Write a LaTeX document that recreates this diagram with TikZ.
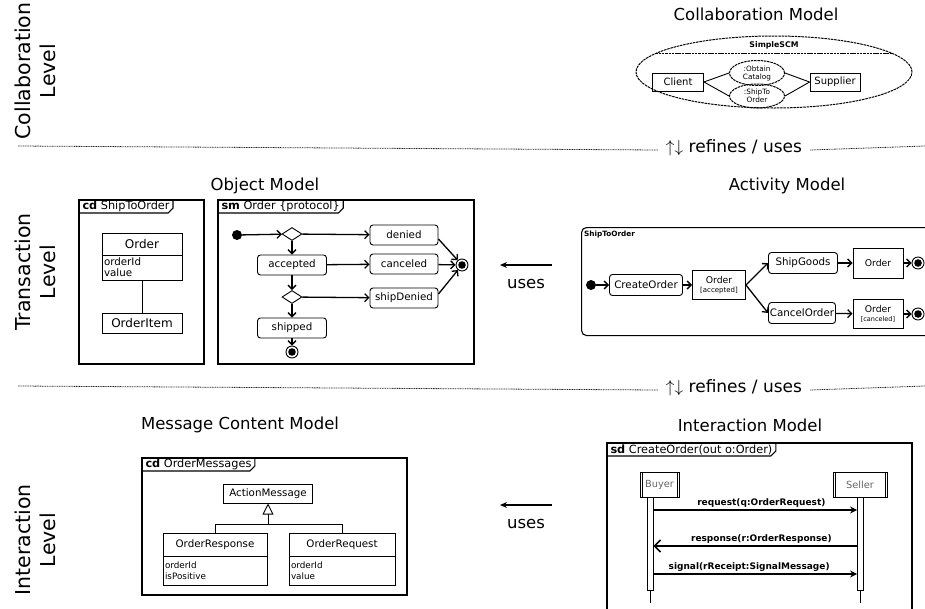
\documentclass[tikz,border=0pt]{standalone}
\usepackage{fontspec}
\setmainfont{DejaVu Sans}
\usetikzlibrary{shapes.geometric, arrows.meta, positioning}
\tikzstyle{leveltext} = [rotate=90, align=center, font=\fontsize{20.5}{25}\selectfont]
\tikzstyle{modeltitle} = [font=\fontsize{16.5}{20}\selectfont]
\tikzstyle{sepline} = [line width=0.8pt, dash pattern=on 1pt off 0.7pt, black!85]
\tikzstyle{umlframe} = [draw, line width=1.1pt, anchor=north west, inner sep=0pt, outer sep=0pt]
\tikzstyle{tab} = [anchor=north west, inner xsep=3.5pt, inner ysep=0pt, minimum height=13pt, outer sep=0pt,
font=\fontsize{11.3}{12}\selectfont]
\tikzstyle{classbox} = [draw, line width=0.9pt, inner sep=0pt, outer sep=0pt, font=\fontsize{12}{13}\selectfont]
\tikzstyle{attrbox} = [draw, line width=0.9pt, inner xsep=2pt, inner ysep=1pt, outer sep=0pt, align=left,
font=\fontsize{10.3}{11}\selectfont]
\tikzstyle{state} = [draw, line width=0.9pt, rounded corners=3pt, minimum width=69pt, minimum height=20pt,
inner sep=0pt, font=\fontsize{10.3}{12}\selectfont]
\tikzstyle{choice} = [draw, line width=0.9pt, diamond, minimum width=20pt, minimum height=13pt, inner sep=0pt]
\tikzstyle{startdot} = [circle, fill=black, minimum size=10pt, inner sep=0pt]
\tikzstyle{enddot} = [circle, draw, line width=0.9pt, minimum size=12pt, inner sep=0pt,
path picture={\fill (path picture bounding box.center) circle (3.8pt);}]
\tikzstyle{trans} = [line width=1.3pt, -{Straight Barb[length=4pt,width=8pt]}]
\tikzstyle{objnode} = [draw, line width=0.9pt, align=center, inner sep=0pt, font=\fontsize{9.3}{10}\selectfont]
\tikzstyle{collab} = [draw, ellipse, line width=1pt, dash pattern=on 2.5pt off 0.8pt, inner sep=0pt]
\tikzstyle{collbox} = [draw, line width=0.9pt, inner sep=0pt, minimum height=18pt, font=\fontsize{10}{11}\selectfont]
\tikzstyle{usesarrow} = [line width=1.4pt, -{Stealth[length=7pt,width=6pt]}]
\tikzstyle{msg} = [line width=1.1pt, -{Stealth[length=7pt,width=7pt]}]
\tikzstyle{msgtext} = [font=\bfseries\fontsize{9}{10}\selectfont, inner sep=2pt]
\tikzstyle{lifehead} = [draw, line width=0.9pt, text=black!60, minimum height=25pt, inner sep=0pt,
font=\fontsize{9.8}{11}\selectfont]
\tikzstyle{bar} = [draw, line width=0.8pt, fill=white, minimum width=6pt, minimum height=93pt, inner sep=0pt,
anchor=north]
\begin{document}
\begin{tikzpicture}[x=1pt, y=-1pt]
        \useasboundingbox (0,0) rectangle (925,608);
        \clip (0,0) rectangle (925,608);

        % Ebenen
        \node (collevel) [leveltext] at (35,71) {Collaboration\\Level};
        \node (translevel) [leveltext] at (35,272) {Transaction\\Level};
        \node (interlevel) [leveltext] at (35,540) {Interaction\\Level};

        \node (refines1) [font=\fontsize{17}{20}\selectfont, inner xsep=8pt, anchor=mid] at (734,150) {$\uparrow\downarrow$ refines / uses};
        \node (refines2) [font=\fontsize{17}{20}\selectfont, inner xsep=8pt, anchor=mid] at (734,390) {$\uparrow\downarrow$ refines / uses};
        \coordinate (sep1l) at (18,146);
        \coordinate (sep1r) at (925,146);
        \coordinate (sep2l) at (18,386);
        \coordinate (sep2r) at (925,386);
        \draw [sepline] (sep1l) -- (refines1.mid west);
        \draw [sepline] (refines1.mid east) -- (sep1r);
        \draw [sepline] (sep2l) -- (refines2.mid west);
        \draw [sepline] (refines2.mid east) -- (sep2r);

        % Titel
        \node (collabtitle) [modeltitle] at (756,14) {Collaboration Model};
        \node (objtitle) [modeltitle] at (265,186) {Object Model};
        \node (acttitle) [modeltitle] at (787,186) {Activity Model};
        \node (msgtitle) [modeltitle] at (240,425) {Message Content Model};
        \node (intertitle) [modeltitle] at (750,425) {Interaction Model};

        % Collaboration Model
        \node (simplescm) [collab, minimum width=276pt, minimum height=72pt] at (774,72) {};
        \draw [line width=1pt, dash pattern=on 2.5pt off 0.8pt] (simplescm.171) -- (simplescm.9);
        \node (scmname) [font=\bfseries\fontsize{7.8}{9}\selectfont] at (774,45) {SimpleSCM};
        \node (client) [collbox, minimum width=51pt] at (678,82) {Client};
        \node (supplier) [collbox, minimum width=50pt] at (835,82) {Supplier};
        \node (obtain) [collab, minimum width=55pt, minimum height=25pt, align=center, font=\fontsize{7.3}{8}\selectfont] at (757,73) {:Obtain\\Catalog};
        \node (shipto) [collab, minimum width=55pt, minimum height=24pt, align=center, font=\fontsize{7.3}{8}\selectfont] at (757,96) {:ShipTo\\Order};
        \draw [line width=0.9pt] (client.east) -- (obtain.west);
        \draw [line width=0.9pt] (client.east) -- (shipto.west);
        \draw [line width=0.9pt] (supplier.west) -- (obtain.east);
        \draw [line width=0.9pt] (supplier.west) -- (shipto.east);

        % Object Model: Klassendiagramm
        \node (cdship) [umlframe, minimum width=125pt, minimum height=164pt] at (79,200) {};
        \node (cdshiptab) [tab] at (cdship.north west) {\textbf{cd} ShipToOrder};
        \draw [line width=1.1pt] (cdshiptab.south west) -- ([xshift=-5pt]cdshiptab.south east) -- ([yshift=5pt]cdshiptab.south east) -- (cdshiptab.north east);
        \node (order) [classbox, minimum width=80pt, minimum height=22pt] at (142,244) {Order};
        \node (orderattr) [attrbox, below=0pt of order, text width=76pt, minimum height=25pt] {orderId\\value};
        \node (orderitem) [classbox, minimum width=80pt, minimum height=20pt] at (142,323) {OrderItem};
        \draw [line width=0.9pt] (orderattr) -- (orderitem);

        % Object Model: Zustandsautomat
        \node (smorder) [umlframe, minimum width=256pt, minimum height=164pt] at (218,200) {};
        \node (smordertab) [tab] at (smorder.north west) {\textbf{sm} Order \{protocol\}};
        \draw [line width=1.1pt] (smordertab.south west) -- ([xshift=-5pt]smordertab.south east) -- ([yshift=5pt]smordertab.south east) -- (smordertab.north east);
        \node (smstart) [startdot] at (237,235) {};
        \node (dec1) [choice] at (292,234) {};
        \node (accepted) [state] at (292,265) {accepted};
        \node (dec2) [choice] at (292,297) {};
        \node (shipped) [state] at (292,328) {shipped};
        \node (smend2) [enddot] at (292,352) {};
        \node (denied) [state, minimum width=68pt] at (404,235) {denied};
        \node (canceled) [state, minimum width=68pt] at (404,264) {canceled};
        \node (shipdenied) [state, minimum width=68pt] at (404,298) {shipDenied};
        \node (smend) [enddot] at (462,265) {};
        \draw [trans] (smstart) -- (dec1);
        \draw [trans] (dec1) -- (denied);
        \draw [trans] (dec1) -- (accepted);
        \draw [trans] (accepted) -- (canceled);
        \draw [trans] (accepted) -- (dec2);
        \draw [trans] (dec2) -- (shipdenied);
        \draw [trans] (dec2) -- (shipped);
        \draw [trans] (shipped) -- (smend2);
        \draw [trans] ([yshift=-4pt]denied.east) -- (smend);
        \draw [trans] (canceled) -- (smend);
        \draw [trans] ([yshift=4pt]shipdenied.east) -- (smend);

        % Activity Model
        \node (actframe) [draw, line width=1.1pt, rounded corners=5pt, anchor=north west, minimum width=360pt, minimum height=108pt, inner sep=0pt] at (581,227) {};
        \node (actname) [anchor=north west, inner sep=0pt, font=\bfseries\fontsize{7.3}{8}\selectfont] at (584,231) {ShipToOrder};
        \node (actstart) [startdot] at (591,285) {};
        \node (createorder) [state, minimum width=73pt, minimum height=21pt] at (646,285) {CreateOrder};
        \node (accobj) [objnode, minimum width=53pt, minimum height=29pt] at (719,285) {Order\\[-1pt]{\fontsize{7}{8}\selectfont[accepted]}};
        \node (shipgoods) [state, minimum width=69pt, minimum height=21pt] at (803,263) {ShipGoods};
        \node (ordobj) [objnode, minimum width=50pt, minimum height=30pt] at (878,263) {Order};
        \node (actend1) [enddot] at (918,263) {};
        \node (cancelorder) [state, minimum width=67pt, minimum height=21pt] at (802,313) {CancelOrder};
        \node (canobj) [objnode, minimum width=50pt, minimum height=29pt] at (878,314) {Order\\[-1pt]{\fontsize{6.5}{8}\selectfont[canceled]}};
        \node (actend2) [enddot] at (918,314) {};
        \draw [trans] (actstart) -- (createorder);
        \draw [trans] (createorder) -- (accobj);
        \draw [trans] (accobj.east) -- (shipgoods.west);
        \draw [trans] (accobj.east) -- (cancelorder.west);
        \draw [trans] (shipgoods) -- (ordobj);
        \draw [trans] (ordobj) -- (actend1);
        \draw [trans] (cancelorder) -- (canobj);
        \draw [trans] (canobj) -- (actend2);

        % uses
        \coordinate (uses1from) at (552,265);
        \coordinate (uses1to) at (500,265);
        \draw [usesarrow] (uses1from) -- (uses1to);
        \node (uses1) [modeltitle] at (526,284) {uses};
        \coordinate (uses2from) at (552,505);
        \coordinate (uses2to) at (500,505);
        \draw [usesarrow] (uses2from) -- (uses2to);
        \node (uses2) [modeltitle] at (526,524) {uses};

        % Message Content Model
        \node (cdmsg) [umlframe, minimum width=265pt, minimum height=137pt] at (142,458) {};
        \node (cdmsgtab) [tab] at (cdmsg.north west) {\textbf{cd} OrderMessages};
        \draw [line width=1.1pt] (cdmsgtab.south west) -- ([xshift=-5pt]cdmsgtab.south east) -- ([yshift=5pt]cdmsgtab.south east) -- (cdmsgtab.north east);
        \node (actionmsg) [classbox, minimum width=89pt, minimum height=19pt, font=\fontsize{10.3}{12}\selectfont] at (268,494) {ActionMessage};
        \node (orderresp) [classbox, minimum width=104pt, minimum height=23pt, font=\fontsize{10.3}{12}\selectfont] at (215,544.5) {OrderResponse};
        \node (orderrespattr) [attrbox, below=0pt of orderresp, text width=100pt, minimum height=29pt, font=\fontsize{8.8}{11}\selectfont] {orderId\\isPositive};
        \node (orderreq) [classbox, minimum width=106pt, minimum height=23pt, font=\fontsize{10.3}{12}\selectfont] at (342,544.5) {OrderRequest};
        \node (orderreqattr) [attrbox, below=0pt of orderreq, text width=102pt, minimum height=29pt, font=\fontsize{8.8}{11}\selectfont] {orderId\\value};
        \coordinate (genjoin) at (268,524);
        \draw [line width=0.9pt] (orderresp.north) |- (genjoin) -| (orderreq.north);
        \draw [line width=0.9pt, -{Triangle[open, length=11pt, width=11pt]}] (genjoin) -- (actionmsg.south);

        % Interaction Model
        \node (sdframe) [umlframe, minimum width=305pt, minimum height=180pt] at (607,443) {};
        \node (sdtab) [tab] at (sdframe.north west) {\textbf{sd} CreateOrder(out o:Order)};
        \draw [line width=1.1pt] (sdtab.south west) -- ([xshift=-5pt]sdtab.south east) -- ([yshift=5pt]sdtab.south east) -- (sdtab.north east);
        \node (buyer) [lifehead, minimum width=39pt] at (659.5,484.5) {Buyer};
        \node (seller) [lifehead, minimum width=54pt] at (860,484.5) {Seller};
        \draw [line width=0.8pt] ([xshift=2.5pt]buyer.north west) -- ([xshift=2.5pt]buyer.south west);
        \draw [line width=0.8pt] ([xshift=-2.5pt]buyer.north east) -- ([xshift=-2.5pt]buyer.south east);
        \draw [line width=0.8pt] ([xshift=2.5pt]seller.north west) -- ([xshift=2.5pt]seller.south west);
        \draw [line width=0.8pt] ([xshift=-2.5pt]seller.north east) -- ([xshift=-2.5pt]seller.south east);
        \node (buyerbar) [bar] at (650,497) {};
        \node (sellerbar) [bar] at (860.5,497) {};
        \draw [line width=0.9pt] (buyerbar.south) -- ([yshift=-12pt]buyerbar.south);
        \draw [line width=0.9pt] (sellerbar.south) -- ([yshift=-12pt]sellerbar.south);
        \draw [msg] ([yshift=-13pt]buyerbar.north east) -- ([yshift=-13pt]sellerbar.north west) node (reqlabel) [msgtext, pos=0.53, above] {request(q:OrderRequest)};
        \draw [line width=1.6pt, -{Straight Barb[length=6pt,width=12pt]}] ([yshift=-49pt]sellerbar.north west) -- ([yshift=-49pt]buyerbar.north east) node (resplabel) [msgtext, pos=0.47, above] {response(r:OrderResponse)};
        \draw [msg] ([yshift=-77pt]buyerbar.north east) -- ([yshift=-77pt]sellerbar.north west) node (siglabel) [msgtext, pos=0.47, above] {signal(rReceipt:SignalMessage)};

\end{tikzpicture}
\end{document}
